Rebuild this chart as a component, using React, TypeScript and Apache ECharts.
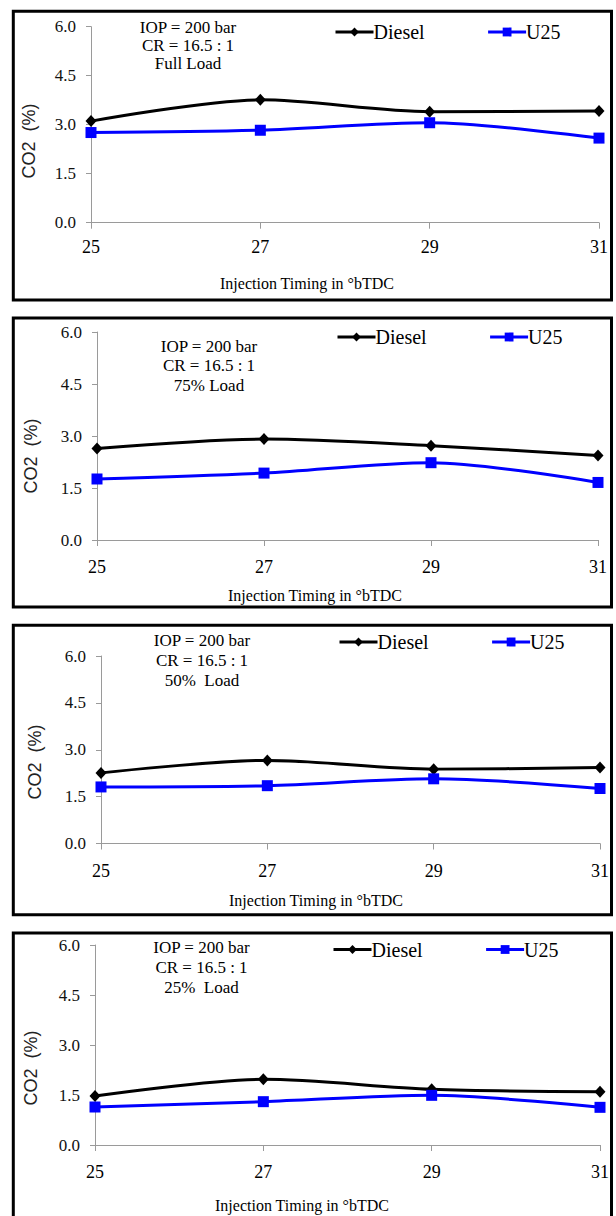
import React, { useEffect, useRef } from 'react';
import * as echarts from 'echarts';

const timings = ['25', '27', '29', '31'];
const seriesNames = ['Diesel', 'U25'];
const loadLabels = ['Full Load', '75% Load', '50%  Load', '25%  Load'];
const iopLabel = 'IOP = 200 bar';
const crLabel = 'CR = 16.5 : 1';
const xTitle = 'Injection Timing in °bTDC';
const yTitle = 'CO2  (%)';

const dieselFull = [3.11, 3.76, 3.4, 3.42];
const u25Full = [2.76, 2.83, 3.06, 2.59];
const diesel75 = [2.64, 2.91, 2.72, 2.44];
const u2575 = [1.76, 1.93, 2.23, 1.66];
const diesel50 = [2.26, 2.66, 2.38, 2.43];
const u2550 = [1.81, 1.85, 2.07, 1.76];
const diesel25 = [1.47, 1.97, 1.67, 1.6];
const u2525 = [1.14, 1.3, 1.49, 1.13];

const yMin = 0;
const yMax = 6;
const yStep = 1.5;

const dieselSets = [dieselFull, diesel75, diesel50, diesel25];
const u25Sets = [u25Full, u2575, u2550, u2525];

// layout of each panel (page pixels)
const layouts = [
  { box: [13.3, 11.3, 598.2, 288.7], grid: [91, 26.7, 508, 196], labelMargin: 15, legendY: 28, legendX: 329, annX: 188, annY: [27, 45, 63], xTitleX: 307, xTitleY: 283, yTitleX: 29, yTitleY: 141 },
  { box: [13.3, 318, 598.2, 289], grid: [97, 332, 501, 208], labelMargin: 18, legendY: 333, legendX: 331, annX: 209, annY: [346, 365.5, 385], xTitleX: 315, xTitleY: 595, yTitleX: 30.5, yTitleY: 456 },
  { box: [13.3, 625.3, 598.2, 289.4], grid: [101, 656, 499, 187.5], labelMargin: 18, legendY: 638, legendX: 333, annX: 202, annY: [640, 660, 680], xTitleX: 316, xTitleY: 900, yTitleX: 34.5, yTitleY: 762 },
  { box: [13.3, 933, 598.2, 292], grid: [95, 945, 505, 200], labelMargin: 18, legendY: 945.5, legendX: 327, annX: 201.5, annY: [947, 967, 987], xTitleX: 302, xTitleY: 1205, yTitleX: 30.5, yTitleY: 1068 },
];

const SERIF = 'Liberation Serif';
const SANS = 'Liberation Sans';

export default function App() {
  const ref = useRef<HTMLDivElement>(null);

  useEffect(() => {
    if (!ref.current) return;
    const chart = echarts.init(ref.current, undefined, { renderer: 'svg' });

    const grids: any[] = [];
    const xAxes: any[] = [];
    const yAxes: any[] = [];
    const series: any[] = [];
    const legends: any[] = [];
    const graphics: any[] = [];

    layouts.forEach((L, i) => {
      grids.push({ left: L.grid[0], top: L.grid[1], width: L.grid[2], height: L.grid[3], containLabel: false });
      xAxes.push({
        type: 'category',
        gridIndex: i,
        data: timings,
        boundaryGap: false,
        axisLine: { show: true, lineStyle: { color: '#9a9a9a', width: 1 } },
        axisTick: { show: true, length: 6, inside: false, lineStyle: { color: '#9a9a9a' } },
        axisLabel: { color: '#000', fontFamily: SERIF, fontSize: 18, margin: L.labelMargin },
        splitLine: { show: false },
      });
      yAxes.push({
        type: 'value',
        gridIndex: i,
        min: yMin,
        max: yMax,
        interval: yStep,
        axisLine: { show: true, lineStyle: { color: '#9a9a9a', width: 1 } },
        axisTick: { show: true, length: 5, lineStyle: { color: '#9a9a9a' } },
        axisLabel: { color: '#111', fontFamily: SERIF, fontSize: 17, margin: 15, formatter: (v: number) => v.toFixed(1) },
        splitLine: { show: false },
      });
      series.push({
        name: seriesNames[0],
        type: 'line',
        xAxisIndex: i,
        yAxisIndex: i,
        data: dieselSets[i],
        smooth: 0.3,
        symbol: 'diamond',
        symbolSize: [11, 12],
        lineStyle: { color: '#000', width: 3 },
        itemStyle: { color: '#000' },
      });
      series.push({
        name: seriesNames[1],
        type: 'line',
        xAxisIndex: i,
        yAxisIndex: i,
        data: u25Sets[i],
        smooth: 0.3,
        symbol: 'rect',
        symbolSize: 11,
        lineStyle: { color: '#0000ff', width: 3 },
        itemStyle: { color: '#0000ff' },
      });
      legends.push({
        data: seriesNames,
        left: L.legendX,
        top: L.legendY - 11,
        itemWidth: 38,
        itemHeight: 11,
        itemGap: 62,
        lineStyle: { width: 3 },
        textStyle: { fontFamily: SERIF, fontSize: 20, color: '#000', padding: [0, 0, 0, -5] },
      });
      graphics.push({
        type: 'rect',
        shape: { x: L.box[0], y: L.box[1], width: L.box[2], height: L.box[3] },
        style: { fill: 'none', stroke: '#000', lineWidth: 3 },
        silent: true,
      });
      const annTexts = [iopLabel, crLabel, loadLabels[i]];
      annTexts.forEach((t, k) => {
        graphics.push({
          type: 'text',
          x: L.annX,
          y: L.annY[k],
          style: { text: t, fontFamily: SERIF, fontSize: 17, fill: '#000', align: 'center', verticalAlign: 'middle' },
        });
      });
      graphics.push({
        type: 'text',
        x: L.xTitleX,
        y: L.xTitleY,
        style: { text: xTitle, fontFamily: SERIF, fontSize: 16, fill: '#000', align: 'center', verticalAlign: 'middle' },
      });
      graphics.push({
        type: 'text',
        x: L.yTitleX,
        y: L.yTitleY,
        rotation: Math.PI / 2,
        style: { text: yTitle, fontFamily: SANS, fontSize: 18, fill: '#222', align: 'center', verticalAlign: 'middle' },
      });
    });

    chart.setOption({
      animation: false,
      backgroundColor: '#fff',
      textStyle: { fontFamily: SERIF },
      grid: grids,
      xAxis: xAxes,
      yAxis: yAxes,
      series,
      legend: legends,
      graphic: graphics,
    });

    return () => chart.dispose();
  }, []);

  return <div ref={ref} style={{ position: 'absolute', left: 0, top: 0, width: 616, height: 1216 }} />;
}
